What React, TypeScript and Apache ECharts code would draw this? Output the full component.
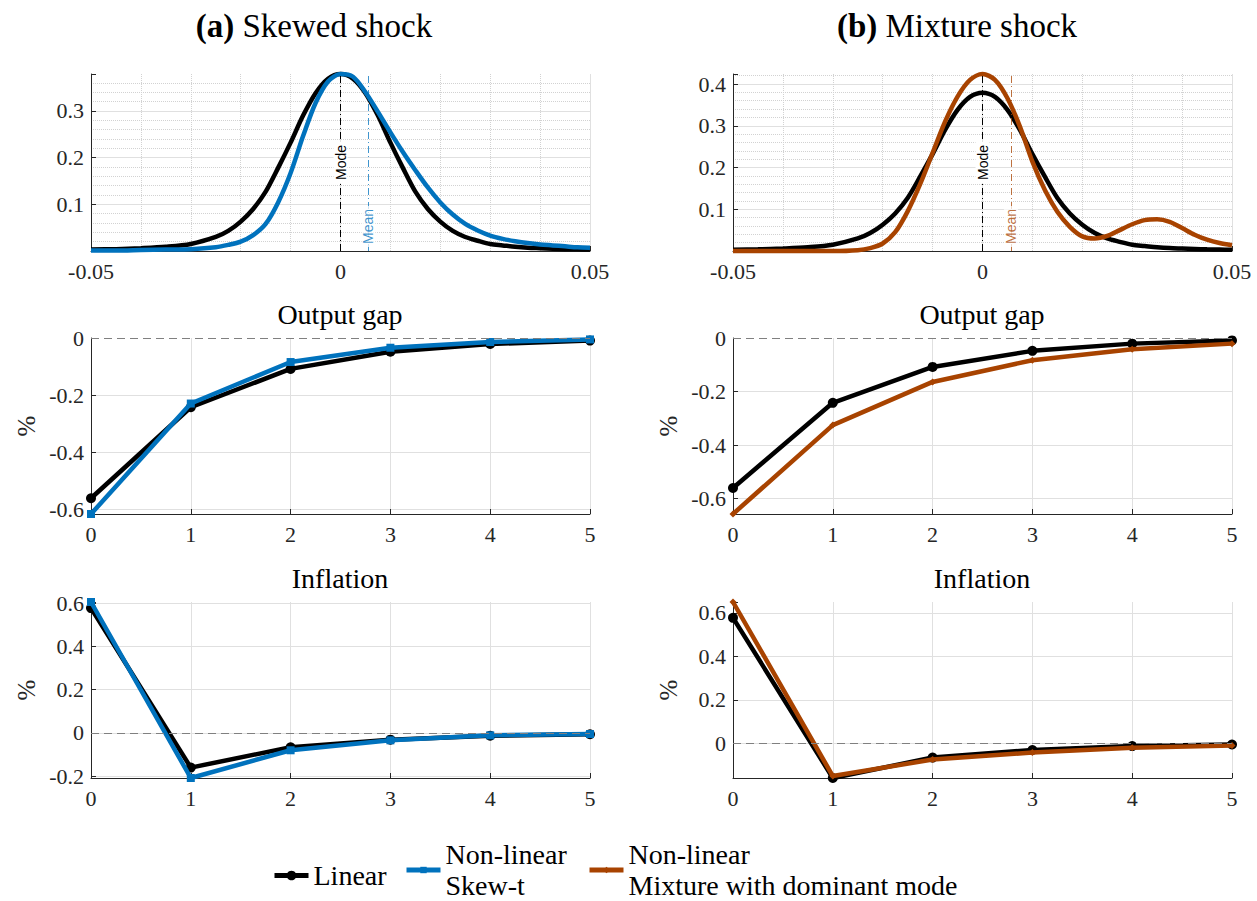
import React, { useEffect, useRef } from "react";
import * as echarts from "echarts";

// ---------------- data ----------------
const DENSITY_X = [
  -0.05, -0.045, -0.04, -0.035, -0.03, -0.025, -0.0225, -0.02, -0.0175, -0.015, -0.0125, -0.01, -0.0075, -0.005, -0.0025,
  0,
  0.0025, 0.005, 0.0075, 0.01, 0.0125, 0.015, 0.0175, 0.02, 0.0225, 0.025, 0.0275, 0.03, 0.0325, 0.035, 0.0375, 0.04, 0.0425, 0.045, 0.0475, 0.05,
];
const DENSITY_LINEAR = [
  0.003, 0.004, 0.006, 0.009, 0.015, 0.03, 0.043, 0.063, 0.09, 0.127, 0.178, 0.232, 0.29, 0.338, 0.369,
  0.379,
  0.369, 0.338, 0.29, 0.232, 0.178, 0.127, 0.09, 0.063, 0.043, 0.03, 0.022, 0.015, 0.012, 0.009, 0.007, 0.006, 0.005, 0.004, 0.0035, 0.003,
];
const DENSITY_SKEW = [
  0.001, 0.001, 0.002, 0.003, 0.004, 0.008, 0.013, 0.02, 0.034, 0.058, 0.104, 0.167, 0.246, 0.317, 0.363,
  0.379,
  0.373, 0.34, 0.298, 0.254, 0.212, 0.173, 0.136, 0.104, 0.078, 0.058, 0.044, 0.033, 0.026, 0.021, 0.017, 0.014, 0.012, 0.01, 0.008, 0.007,
];
const DENSITY_MIXTURE = [
  0, 0, 0, 0, 0, 0.002, 0.007, 0.018, 0.045, 0.095, 0.16, 0.235, 0.31, 0.37, 0.41,
  0.424,
  0.41, 0.366, 0.298, 0.214, 0.146, 0.094, 0.058, 0.035, 0.03, 0.036, 0.05, 0.064, 0.074, 0.076, 0.07, 0.055, 0.039, 0.027, 0.019, 0.014,
];
const MODE_X = 0;
const MEAN_SKEW_X = 0.0056;
const MEAN_MIX_X = 0.0057;

const HORIZON = [0, 1, 2, 3, 4, 5];
const OUTPUT_LINEAR = [-0.56, -0.242, -0.108, -0.048, -0.021, -0.009];
const OUTPUT_SKEW = [-0.615, -0.229, -0.084, -0.034, -0.014, -0.005];
const OUTPUT_MIXTURE = [-0.657, -0.325, -0.164, -0.083, -0.042, -0.021];
const INFLATION_LINEAR = [0.577, -0.16, -0.066, -0.031, -0.013, -0.006];
const INFLATION_SKEW = [0.605, -0.208, -0.08, -0.034, -0.011, -0.005];
const INFLATION_MIXTURE = [0.65, -0.151, -0.075, -0.043, -0.021, -0.011];

const DENSITY_TICKS_X = [-0.05, 0, 0.05];

const N_LINEAR = "Linear";
const N_SKEW = "Non-linear\nSkew-t";
const N_MIX = "Non-linear\nMixture with dominant mode";

const TITLE_A = "Skewed shock";
const TITLE_B = "Mixture shock";
const SUB_OUTPUT = "Output gap";
const SUB_INFLATION = "Inflation";
const Y_NAME = "%";

// ---------------- style ----------------
const SERIF = "Liberation Serif";
const SANS = "Liberation Sans";
const C_LINEAR = "#000000";
const C_SKEW = "#0072BD";
const C_MIX = "#A84300";
const AX = "#262626";
const GRID_C = "#e0e0e0";
const MINOR_C = "#d2d2d2";
const LW = 4.5;
const TICK_FS = 22;

const COL_LEFT = [91, 733];
const GRID_W = 499;
const ROW_TOP = [74, 338, 602];
const ROW_H = [177, 176, 176];

const pairs = (xs: number[], ys: number[]) => xs.map((x, i) => [x, ys[i]]);
const ext = (...arrs: number[][]) => {
  const all = ([] as number[]).concat(...arrs, [0]);
  return [Math.min(...all), Math.max(...all)];
};

const fmt = (step: number, hideZero: boolean, dec: number) => (v: number) => {
  const k = v / step;
  if (Math.abs(k - Math.round(k)) > 1e-6) return "";
  if (hideZero && Math.abs(v) < 1e-9) return "";
  return String(Number((Math.round(k) * step).toFixed(dec)));
};

const serifText = (size: number, color: string) => ({
  fontFamily: SERIF,
  fontSize: size,
  fontWeight: "normal",
  color,
  rich: { b: { fontFamily: SERIF, fontSize: size, fontWeight: "bold", color } },
});

function xAxisOf(gridIndex: number, min: number, max: number, step: number, minor: boolean, dec: number) {
  return {
    type: "value",
    gridIndex,
    min,
    max,
    interval: step,
    axisLine: { show: true, onZero: false, lineStyle: { color: AX, width: 1 } },
    axisTick: { show: true, inside: true, length: 5, lineStyle: { color: AX } },
    axisLabel: {
      show: true,
      margin: 9,
      ...serifText(TICK_FS, AX),
      showMinLabel: true,
      showMaxLabel: true,
      hideOverlap: false,
      formatter: fmt(step, false, dec),
    },
    splitLine: { show: true, showMinLine: false, lineStyle: { color: GRID_C, width: 1 } },
    minorTick: { show: false, splitNumber: 5 },
    minorSplitLine: { show: minor, lineStyle: { color: MINOR_C, width: 1, type: "dotted" } },
    z: 1,
  };
}

function yAxisOf(gridIndex: number, min: number, max: number, step: number, hideZero: boolean, named: boolean) {
  return {
    type: "value",
    gridIndex,
    min,
    max,
    minInterval: step,
    maxInterval: step,
    splitNumber: 4,
    name: named ? Y_NAME : "",
    nameLocation: "middle",
    nameRotate: 90,
    nameGap: 52,
    nameTextStyle: serifText(25, AX),
    axisLine: { show: true, onZero: false, lineStyle: { color: AX, width: 1 } },
    axisTick: { show: true, inside: true, length: 5, lineStyle: { color: AX } },
    axisLabel: {
      show: true,
      margin: 7,
      ...serifText(TICK_FS, AX),
      hideOverlap: false,
      formatter: fmt(step, hideZero, 1),
    },
    splitLine: { show: true, showMinLine: false, showMaxLine: false, lineStyle: { color: GRID_C, width: 1 } },
    z: 1,
  };
}

function minorYAxisOf(gridIndex: number, max: number) {
  return {
    type: "value",
    gridIndex,
    min: 0,
    max,
    interval: 0.02,
    axisLine: { show: false },
    axisTick: { show: false },
    axisLabel: { show: false },
    splitLine: { show: true, showMinLine: false, showMaxLine: false, lineStyle: { color: MINOR_C, width: 1, type: "dotted" } },
    z: 0,
  };
}

const modeLine = (ymax: number) => ({
  silent: true,
  symbol: ["none", "none"],
  lineStyle: { color: "#000", width: 1, type: [7, 3, 1, 3] },
  label: {
    show: true,
    position: "insideMiddle",
    formatter: "Mode",
    fontFamily: SANS,
    fontSize: 14,
    color: "#000",
    backgroundColor: "#fff",
    padding: [0, 3],
    distance: [0, 0],
    verticalAlign: "middle",
  },
  emphasis: { disabled: true },
  data: [[{ coord: [MODE_X, 0] }, { coord: [MODE_X, ymax] }]],
});

const meanLine = (x: number, ymax: number, color: string) => ({
  silent: true,
  symbol: ["none", "none"],
  lineStyle: { color, width: 1, type: [7, 3, 1, 3], opacity: 0.75 },
  label: {
    show: true,
    position: "insideStart",
    formatter: "Mean",
    fontFamily: SANS,
    fontSize: 14,
    color,
    backgroundColor: "#fff",
    padding: [0, 3],
    distance: [4, 0],
    verticalAlign: "middle",
  },
  emphasis: { disabled: true },
  data: [[{ coord: [x, 0] }, { coord: [x, ymax] }]],
});

const zeroLine = {
  silent: true,
  symbol: ["none", "none"],
  label: { show: false },
  lineStyle: { color: "#808080", width: 1, type: [8, 5] },
  emphasis: { disabled: true },
  data: [{ yAxis: 0 }],
};

function irf(name: string, gi: number, ys: number[], color: string, symbol: string, size: number, zero: boolean) {
  return {
    type: "line",
    name,
    xAxisIndex: gi,
    yAxisIndex: gi,
    data: pairs(HORIZON, ys),
    symbol,
    symbolSize: size,
    showSymbol: true,
    clip: false,
    lineStyle: { color, width: LW },
    itemStyle: { color, borderColor: color, borderWidth: 0 },
    emphasis: { disabled: true },
    z: zero ? 2 : 3,
    markLine: zero ? zeroLine : undefined,
  };
}

function density(name: string, gi: number, ys: number[], color: string, markLine: any, z: number) {
  return {
    type: "line",
    name,
    xAxisIndex: gi,
    yAxisIndex: gi,
    data: pairs(DENSITY_X, ys),
    showSymbol: false,
    symbol: "none",
    smooth: 0.3,
    clip: false,
    lineStyle: { color, width: LW },
    itemStyle: { color },
    emphasis: { disabled: true },
    z,
    markLine,
  };
}

function buildOption() {
  const grids = [];
  for (let r = 0; r < 3; r++)
    for (let c = 0; c < 2; c++)
      grids.push({ left: COL_LEFT[c], top: ROW_TOP[r], width: GRID_W, height: ROW_H[r], outerBoundsMode: "none", containLabel: false });

  const topL = ext(DENSITY_LINEAR, DENSITY_SKEW);
  const topR = ext(DENSITY_LINEAR, DENSITY_MIXTURE);
  const midL = ext(OUTPUT_LINEAR, OUTPUT_SKEW);
  const midR = ext(OUTPUT_LINEAR, OUTPUT_MIXTURE);
  const botL = ext(INFLATION_LINEAR, INFLATION_SKEW);
  const botR = ext(INFLATION_LINEAR, INFLATION_MIXTURE);

  const dMin = DENSITY_TICKS_X[0];
  const dMax = DENSITY_TICKS_X[DENSITY_TICKS_X.length - 1];
  const dStep = DENSITY_TICKS_X[1] - DENSITY_TICKS_X[0];
  const hMin = HORIZON[0];
  const hMax = HORIZON[HORIZON.length - 1];

  const xAxis = [
    xAxisOf(0, dMin, dMax, dStep, true, 2),
    xAxisOf(1, dMin, dMax, dStep, true, 2),
    xAxisOf(2, hMin, hMax, 1, false, 0),
    xAxisOf(3, hMin, hMax, 1, false, 0),
    xAxisOf(4, hMin, hMax, 1, false, 0),
    xAxisOf(5, hMin, hMax, 1, false, 0),
  ];
  const yAxis = [
    yAxisOf(0, 0, topL[1], 0.1, true, false),
    yAxisOf(1, 0, topR[1], 0.1, true, false),
    yAxisOf(2, midL[0], midL[1], 0.2, false, true),
    yAxisOf(3, midR[0], midR[1], 0.2, false, true),
    yAxisOf(4, botL[0], botL[1], 0.2, false, true),
    yAxisOf(5, botR[0], botR[1], 0.2, false, true),
    minorYAxisOf(0, topL[1]),
    minorYAxisOf(1, topR[1]),
  ];

  const series = [
    irf(N_LINEAR, 2, OUTPUT_LINEAR, C_LINEAR, "circle", 10, true),
    irf(N_SKEW, 2, OUTPUT_SKEW, C_SKEW, "rect", 8, false),
    irf(N_LINEAR, 3, OUTPUT_LINEAR, C_LINEAR, "circle", 10, true),
    irf(N_MIX, 3, OUTPUT_MIXTURE, C_MIX, "diamond", 7, false),
    irf(N_LINEAR, 4, INFLATION_LINEAR, C_LINEAR, "circle", 10, true),
    irf(N_SKEW, 4, INFLATION_SKEW, C_SKEW, "rect", 8, false),
    irf(N_LINEAR, 5, INFLATION_LINEAR, C_LINEAR, "circle", 10, true),
    irf(N_MIX, 5, INFLATION_MIXTURE, C_MIX, "diamond", 7, false),
    density(N_LINEAR, 0, DENSITY_LINEAR, C_LINEAR, modeLine(topL[1]), 2),
    density(N_SKEW, 0, DENSITY_SKEW, C_SKEW, meanLine(MEAN_SKEW_X, topL[1], C_SKEW), 3),
    density(N_LINEAR, 1, DENSITY_LINEAR, C_LINEAR, modeLine(topR[1]), 2),
    density(N_MIX, 1, DENSITY_MIXTURE, C_MIX, meanLine(MEAN_MIX_X, topR[1], C_MIX), 3),
  ];

  const title = [
    { text: "{b|(a)} " + TITLE_A, left: 314, top: 9, textAlign: "center", padding: 0, textStyle: serifText(33, "#000") },
    { text: "{b|(b)} " + TITLE_B, left: 957, top: 9, textAlign: "center", padding: 0, textStyle: serifText(33, "#000") },
    { text: SUB_OUTPUT, left: 340, top: 300, textAlign: "center", padding: 0, textStyle: serifText(28, "#000") },
    { text: SUB_OUTPUT, left: 982, top: 300, textAlign: "center", padding: 0, textStyle: serifText(28, "#000") },
    { text: SUB_INFLATION, left: 340, top: 564, textAlign: "center", padding: 0, textStyle: serifText(28, "#000") },
    { text: SUB_INFLATION, left: 982, top: 564, textAlign: "center", padding: 0, textStyle: serifText(28, "#000") },
  ];

  const legendText = { ...serifText(28, "#000"), lineHeight: 31 };
  const legendBase = { padding: 0, selectedMode: false, textStyle: legendText, lineStyle: { width: 5 }, itemWidth: 34 };
  const legend = [
    { ...legendBase, data: [N_LINEAR], left: 272, top: 860, itemHeight: 12 },
    { ...legendBase, data: [N_SKEW], left: 404, top: 839, itemHeight: 8 },
    { ...legendBase, data: [N_MIX], left: 587, top: 839, itemHeight: 8 },
  ];

  return {
    animation: false,
    backgroundColor: "#ffffff",
    textStyle: { fontFamily: SERIF, fontWeight: "normal" },
    title,
    legend,
    grid: grids,
    xAxis,
    yAxis,
    series,
  };
}

export default function App() {
  const ref = useRef<HTMLDivElement>(null);
  useEffect(() => {
    const el = ref.current;
    if (!el) return;
    const chart = echarts.init(el, null, { renderer: "svg" });
    chart.setOption(buildOption() as any);
    return () => chart.dispose();
  }, []);
  return (
    <div
      ref={ref}
      style={{ position: "fixed", left: 0, top: 0, width: 1257, height: 901, background: "#fff" }}
    />
  );
}
